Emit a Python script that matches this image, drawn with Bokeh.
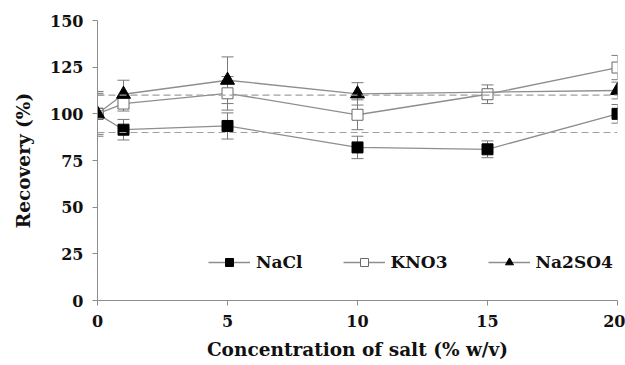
from bokeh.plotting import figure
from bokeh.models import (ColumnDataSource, Range1d, Span, Whisker, TeeHead,
                          Legend, LegendItem, FixedTicker)
from bokeh.embed import file_html
from bokeh.resources import INLINE

# ---- data ----
conc = [0, 1, 5, 10, 15, 20]
nacl = [100, 91.5, 93.5, 82, 81, 100]
nacl_err = [12, 5.5, 7, 6, 4.5, 5]
kno3 = [100, 105.5, 111, 99.5, 110.5, 124.8]
kno3_err = [11, 4, 9, 8, 5, 6.5]
na2so4_conc = [0, 1, 5, 10, 20]
na2so4 = [100, 110.5, 118, 110.7, 112.5]
na2so4_err = [10, 7.5, 12.5, 6, 4.5]
ref_lines = [110, 90]
x_ticks = [0, 5, 10, 15, 20]
y_ticks = [0, 25, 50, 75, 100, 125, 150]

FONT = "DejaVu Serif"
LINE = "#8e8e8e"
ERR = "#7a7a7a"
AX = "#8c8c8c"

p = figure(width=625, height=365, output_backend="svg", toolbar_location=None,
           x_range=Range1d(0, 20), y_range=Range1d(0, 150),
           min_border_left=97, min_border_right=8, min_border_top=20,
           min_border_bottom=65)
p.outline_line_color = None
p.xgrid.visible = False
p.ygrid.visible = False

for ax in (p.xaxis[0], p.yaxis[0]):
    ax.axis_line_color = AX
    ax.major_tick_line_color = AX
    ax.minor_tick_line_color = None
    ax.major_tick_in = 0
    ax.major_tick_out = 5
    ax.major_label_text_font = FONT
    ax.major_label_text_font_style = "bold"
    ax.major_label_text_font_size = "16px"
    ax.major_label_text_color = "#111111"
    ax.axis_label_text_font = FONT
    ax.axis_label_text_font_style = "bold"
    ax.axis_label_text_font_size = "18.5px"
    ax.axis_label_text_color = "#111111"

p.xaxis.ticker = FixedTicker(ticks=x_ticks)
p.yaxis.ticker = FixedTicker(ticks=y_ticks)
p.xaxis.axis_label = "Concentration of salt (% w/v)"
p.yaxis.axis_label = "Recovery (%)"
p.xaxis.major_label_standoff = 9
p.yaxis.major_label_standoff = 9
p.xaxis.axis_label_standoff = 9
p.yaxis.axis_label_standoff = 13

for v in ref_lines:
    p.add_layout(Span(location=v, dimension="width", line_color="#a0a0a0",
                      line_dash="7 4", line_width=1.2))

def add_err(xs, ys, es):
    src = ColumnDataSource(dict(x=xs, lo=[y - e for y, e in zip(ys, es)],
                                hi=[y + e for y, e in zip(ys, es)]))
    w = Whisker(source=src, base="x", lower="lo", upper="hi",
                line_color=ERR, line_width=1,
                upper_head=TeeHead(size=12, line_color=ERR, line_width=1),
                lower_head=TeeHead(size=12, line_color=ERR, line_width=1))
    p.add_layout(w)

add_err(conc, nacl, nacl_err)
add_err(conc, kno3, kno3_err)
add_err(na2so4_conc, na2so4, na2so4_err)

l1 = p.line(conc, nacl, line_color=LINE, line_width=1.3)
m1 = p.scatter(conc, nacl, marker="square", size=11, fill_color="black",
               line_color="black")
l2 = p.line(conc, kno3, line_color=LINE, line_width=1.3)
m2 = p.scatter(conc, kno3, marker="square", size=11, fill_color="white",
               line_color="#6a6a6a", line_width=1)
l3 = p.line(na2so4_conc, na2so4, line_color=LINE, line_width=1.3)
m3 = p.scatter(na2so4_conc, na2so4, marker="triangle", size=14,
               fill_color="black", line_color="black")

legend = Legend(items=[LegendItem(label="NaCl", renderers=[l1, m1]),
                       LegendItem(label="KNO3", renderers=[l2, m2]),
                       LegendItem(label="Na2SO4", renderers=[l3, m3])],
                orientation="horizontal", location=(111, 28),
                glyph_width=42, glyph_height=20, label_standoff=6,
                spacing=40, padding=0, margin=0,
                border_line_color=None, background_fill_alpha=0,
                label_text_font=FONT, label_text_font_style="bold",
                label_text_font_size="17px", label_text_color="#111111")
p.add_layout(legend)

open("out.html", "w").write(file_html(p, INLINE))
